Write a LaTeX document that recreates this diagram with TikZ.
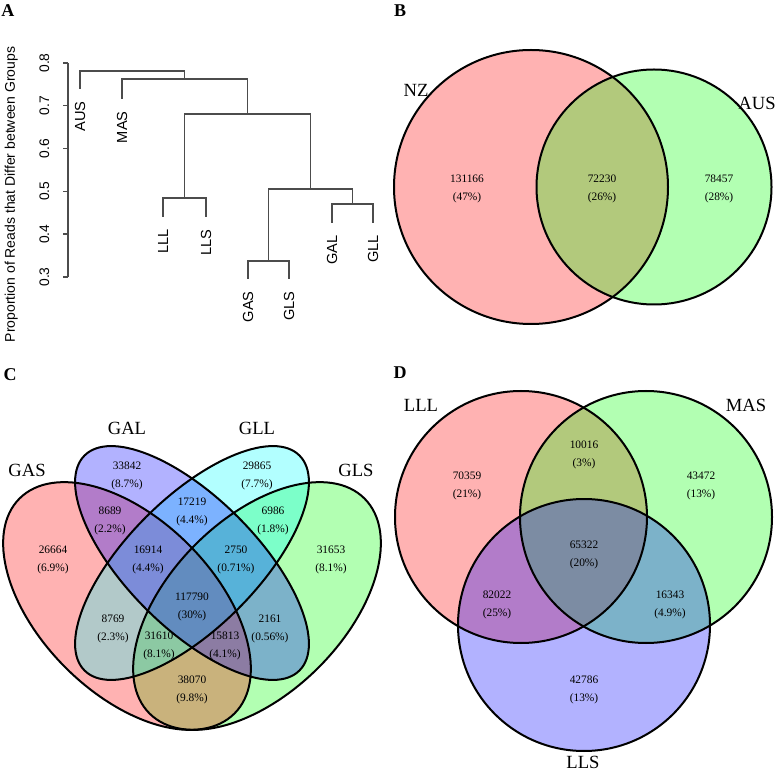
\documentclass[tikz,border=0pt]{standalone}
\usepackage{fontspec}
\setmainfont{Liberation Serif}
\newfontfamily\dendrofont{Liberation Sans}
\definecolor{setred}{rgb}{1,0,0}
\definecolor{setgreen}{rgb}{0,1,0}
\definecolor{setblue}{rgb}{0,0,1}
\definecolor{setcyan}{rgb}{0,1,1}

\begin{document}
\begin{tikzpicture}[x=0.5pt,y=-0.5pt,
	setfill/.style={fill=#1,fill opacity=0.3,draw=none},
	setline/.style={draw=black,line width=1pt},
	tally/.style={font=\fontsize{5.7}{8.7}\selectfont,align=center,inner sep=0pt},
	setname/.style={font=\fontsize{9.3}{11}\selectfont,inner sep=0pt},
	panel/.style={font=\fontsize{9}{11}\selectfont\bfseries,inner sep=0pt},
	branch/.style={draw=black!70,line width=0.7pt},
	leaf/.style={font=\fontsize{7.3}{9}\dendrofont,rotate=90,anchor=east,inner sep=0pt},
	ticklab/.style={font=\fontsize{6.9}{9}\dendrofont,rotate=90,anchor=base,inner sep=0pt}]
	\useasboundingbox (0,0) rectangle (777,770);

	% A: dendrogram
	\node[panel] (pa) at (8,11) {A};
	\draw[branch] (68,63) -- (68,277);
	\foreach \v/\h in {0.3/277,0.4/234.2,0.5/191.4,0.6/148.6,0.7/105.8,0.8/63}{
		\draw[branch] (63,\h) -- (68,\h);
		\node[ticklab] at (49,\h) {\v};
	}
	\node[font=\fontsize{7}{9}\dendrofont,rotate=90,anchor=base,inner sep=0pt] (ytitle) at (15,194.5)
		{Proportion of Reads that Differ between Groups};

	\coordinate (aus) at (80,89);
	\coordinate (mas) at (122,99);
	\coordinate (lll) at (163,217);
	\coordinate (lls) at (206,217);
	\coordinate (gas) at (248,279);
	\coordinate (gls) at (289,279);
	\coordinate (gal) at (332,223);
	\coordinate (gll) at (373,223);
	\coordinate (m1) at (184.5,198);
	\coordinate (m2) at (268.5,261);
	\coordinate (m3) at (352.5,204);
	\coordinate (m4) at (310.5,189);
	\coordinate (m5) at (247.5,114);
	\coordinate (m6) at (184.5,79);
	\coordinate (m7) at (132.5,71);

	\foreach \l/\p/\r in {lll/m1/lls, gas/m2/gls, gal/m3/gll, m2/m4/m3, m1/m5/m4, mas/m6/m5, aus/m7/m6}
		\draw[branch] (\l) |- (\p) -| (\r);

	\foreach \n/\t in {aus/AUS, mas/MAS, lll/LLL, lls/LLS, gas/GAS, gls/GLS, gal/GAL, gll/GLL}
		\node[leaf] (l\n) at ([yshift=-6pt]\n) {\t};

	% B: NZ vs AUS
	\node[panel] (pb) at (400,11) {B};
	\path[setfill=setred] (531,187) circle [radius=137];
	\path[setfill=setgreen] (654,187) circle [radius=117.5];
	\draw[setline] (531,187) circle [radius=137];
	\draw[setline] (654,187) circle [radius=117.5];
	\node[setname] (nz) at (416,90) {NZ};
	\node[setname] (aus2) at (757,103) {AUS};
	\node[tally] (b1) at (467,189) {131166\\(47\%)};
	\node[tally] (b2) at (602,189) {72230\\(26\%)};
	\node[tally] (b3) at (719,189) {78457\\(28\%)};

	% C: four ellipses
	\node[panel] (pc) at (10,375) {C};
	\foreach \cx/\cy/\rot/\ry/\col in {257/606/45/87/setgreen, 127/606/-45/87/setred, 192/563/45/65/setcyan, 192/563/-45/65/setblue}
		\path[setfill=\col, rotate around={\rot:(\cx,\cy)}] (\cx,\cy) ellipse [x radius=152, y radius=\ry];
	\foreach \cx/\cy/\rot/\ry in {257/606/45/87, 127/606/-45/87, 192/563/45/65, 192/563/-45/65}
		\draw[setline, rotate around={\rot:(\cx,\cy)}] (\cx,\cy) ellipse [x radius=152, y radius=\ry];
	\node[setname] (gasn) at (27,470) {GAS};
	\node[setname] (galn) at (127,428) {GAL};
	\node[setname] (glln) at (257,428) {GLL};
	\node[setname] (glsn) at (356,470) {GLS};
	\node[tally] (c1) at (127,476) {33842\\(8.7\%)};
	\node[tally] (c2) at (257,476) {29865\\(7.7\%)};
	\node[tally] (c3) at (192,512) {17219\\(4.4\%)};
	\node[tally] (c4) at (110,521) {8689\\(2.2\%)};
	\node[tally] (c5) at (273,521) {6986\\(1.8\%)};
	\node[tally] (c6) at (53,560) {26664\\(6.9\%)};
	\node[tally] (c7) at (148,560) {16914\\(4.4\%)};
	\node[tally] (c8) at (236,560) {2750\\(0.71\%)};
	\node[tally] (c9) at (331,560) {31653\\(8.1\%)};
	\node[tally] (c10) at (192,607) {117790\\(30\%)};
	\node[tally] (c11) at (113,629) {8769\\(2.3\%)};
	\node[tally] (c12) at (270,629) {2161\\(0.56\%)};
	\node[tally] (c13) at (159,646) {31610\\(8.1\%)};
	\node[tally] (c14) at (225,646) {15813\\(4.1\%)};
	\node[tally] (c15) at (192,690) {38070\\(9.8\%)};

	% D: LLL, MAS, LLS
	\node[panel] (pd) at (400,373) {D};
	\foreach \cx/\cy/\col in {521/517/setred, 646/517/setgreen, 584/625/setblue}
		\path[setfill=\col] (\cx,\cy) circle [radius=126];
	\foreach \cx/\cy in {521/517, 646/517, 584/625}
		\draw[setline] (\cx,\cy) circle [radius=126];
	\node[setname] (llln) at (421,405) {LLL};
	\node[setname] (masn) at (746,405) {MAS};
	\node[setname] (llsn) at (583,762) {LLS};
	\node[tally] (d1) at (584,455) {10016\\(3\%)};
	\node[tally] (d2) at (467,486) {70359\\(21\%)};
	\node[tally] (d3) at (701,486) {43472\\(13\%)};
	\node[tally] (d4) at (584,555) {65322\\(20\%)};
	\node[tally] (d5) at (497,605) {82022\\(25\%)};
	\node[tally] (d6) at (670,605) {16343\\(4.9\%)};
	\node[tally] (d7) at (584,690) {42786\\(13\%)};
\end{tikzpicture}
\end{document}
